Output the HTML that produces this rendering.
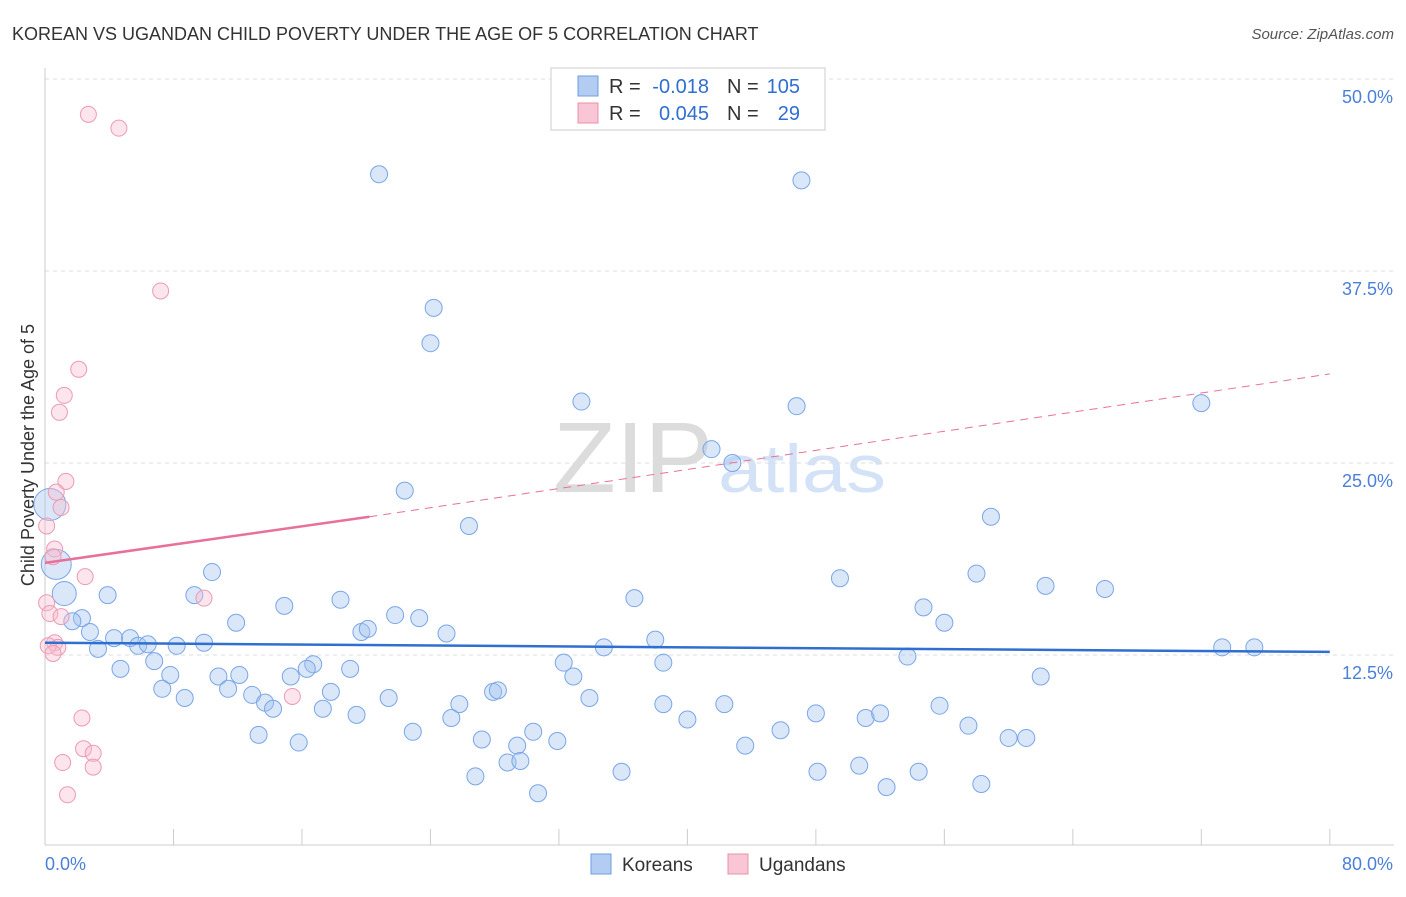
<!DOCTYPE html>
<html><head><meta charset="utf-8">
<style>
body{margin:0;background:#fff;font-family:"Liberation Sans",sans-serif;}
svg text{font-family:"Liberation Sans",sans-serif;}
</style></head>
<body>
<svg id="chart" width="1406" height="892">
<text x="12" y="40" font-size="18" fill="#333">KOREAN VS UGANDAN CHILD POVERTY UNDER THE AGE OF 5 CORRELATION CHART</text>
<text x="1394" y="39" font-size="15" fill="#555" font-style="italic" text-anchor="end">Source: ZipAtlas.com</text>
<text x="34" y="455" font-size="18" fill="#333" text-anchor="middle" transform="rotate(-90 34 455)">Child Poverty Under the Age of 5</text>
<text x="553" y="492" font-size="100" fill="#dcdcdc" font-family="Liberation Serif" textLength="160" lengthAdjust="spacingAndGlyphs">ZIP</text>
<text x="718" y="492" font-size="68" fill="#d3e2f6" textLength="168" lengthAdjust="spacingAndGlyphs">atlas</text>
<g id="grid"></g><g id="axes"></g><g id="marks"></g>
<g>
<rect x="551" y="68" width="274" height="62" fill="#fff" stroke="#ccc"/>
<rect x="578" y="76" width="20" height="20" fill="#b3cdf2" stroke="#6d9ee0"/>
<text x="609" y="93" font-size="20" fill="#333">R =</text>
<text x="709" y="93" font-size="20" fill="#2f6fd0" text-anchor="end">-0.018</text>
<text x="727" y="93" font-size="20" fill="#333">N =</text>
<text x="800" y="93" font-size="20" fill="#2f6fd0" text-anchor="end">105</text>
<rect x="578" y="103" width="20" height="20" fill="#f8c6d5" stroke="#e890ab"/>
<text x="609" y="120" font-size="20" fill="#333">R =</text>
<text x="709" y="120" font-size="20" fill="#2f6fd0" text-anchor="end">0.045</text>
<text x="727" y="120" font-size="20" fill="#333">N =</text>
<text x="800" y="120" font-size="20" fill="#2f6fd0" text-anchor="end">29</text>
</g>
<g>
<rect x="591" y="854" width="20" height="20" fill="#b3cdf2" stroke="#6d9ee0"/>
<text x="622" y="871" font-size="19" fill="#333">Koreans</text>
<rect x="728" y="854" width="20" height="20" fill="#f8c6d5" stroke="#e890ab"/>
<text x="759" y="871" font-size="19" fill="#333">Ugandans</text>
</g>
</svg>
<script>
const yTicks=[12.5,25,37.5,50];
const xTickLabels=["0.0%","80.0%"];
const koreanX=[20.8,47.1,24.2,24.0,33.4,46.8,72.0,41.5,42.8,22.4,26.4,58.9,10.4,49.5,58.0,62.3,66.0,3.9,9.3,18.4,36.7,14.9,21.8,23.3,54.7,11.9,56.0,2.3,1.7,2.8,19.7,20.1,25.0,4.3,5.3,5.8,6.4,8.2,9.9,38.0,3.3,34.8,73.3,75.3,6.8,4.7,16.7,16.3,32.3,38.5,53.7,7.8,10.8,12.1,15.3,19.0,32.9,62.0,7.3,11.4,17.8,27.9,28.2,8.7,12.9,13.7,14.2,21.4,33.9,25.8,38.5,42.3,55.7,17.3,19.4,25.3,48.0,40.0,51.1,52.0,57.5,13.3,22.9,30.4,45.8,27.2,31.9,15.8,29.4,43.6,60.0,61.1,28.8,29.6,50.7,26.8,35.9,48.1,54.4,52.4,58.3,30.7,0.3,0.7,1.2];
const koreanY=[43.8,43.4,35.1,32.8,29.0,28.7,28.9,25.9,25.0,23.2,20.9,21.5,17.9,17.5,17.8,17.0,16.8,16.4,16.4,16.1,16.2,15.7,15.1,14.9,15.6,14.6,14.6,14.9,14.7,14.0,14.0,14.2,13.9,13.6,13.6,13.1,13.2,13.1,13.3,13.5,12.9,13.0,13.0,13.0,12.1,11.6,11.9,11.6,12.0,12.0,12.4,11.2,11.1,11.2,11.1,11.6,11.1,11.1,10.3,10.3,10.1,10.1,10.2,9.7,9.9,9.4,9.0,9.7,9.7,9.3,9.3,9.3,9.2,9.0,8.6,8.4,8.7,8.3,8.4,8.7,7.9,7.3,7.5,7.5,7.6,7.0,6.9,6.8,6.6,6.6,7.1,7.1,5.5,5.6,5.3,4.6,4.9,4.9,4.9,3.9,4.1,3.5,22.3,18.4,16.5];
const koreanR=[8.5,8.5,8.5,8.5,8.5,8.5,8.5,8.5,8.5,8.5,8.5,8.5,8.5,8.5,8.5,8.5,8.5,8.5,8.5,8.5,8.5,8.5,8.5,8.5,8.5,8.5,8.5,8.5,8.5,8.5,8.5,8.5,8.5,8.5,8.5,8.5,8.5,8.5,8.5,8.5,8.5,8.5,8.5,8.5,8.5,8.5,8.5,8.5,8.5,8.5,8.5,8.5,8.5,8.5,8.5,8.5,8.5,8.5,8.5,8.5,8.5,8.5,8.5,8.5,8.5,8.5,8.5,8.5,8.5,8.5,8.5,8.5,8.5,8.5,8.5,8.5,8.5,8.5,8.5,8.5,8.5,8.5,8.5,8.5,8.5,8.5,8.5,8.5,8.5,8.5,8.5,8.5,8.5,8.5,8.5,8.5,8.5,8.5,8.5,8.5,8.5,8.5,16,15,12];
const ugandanX=[2.7,4.6,7.2,2.1,1.2,0.9,1.3,0.7,1.0,0.1,0.6,0.5,2.5,9.9,0.1,0.3,1.0,0.6,0.8,0.2,0.5,15.4,2.3,2.4,3.0,1.1,3.0,1.4];
const ugandanY=[47.7,46.8,36.2,31.1,29.4,28.3,23.8,23.1,22.1,20.9,19.4,18.9,17.6,16.2,15.9,15.2,15.0,13.3,13.0,13.1,12.6,9.8,8.4,6.4,6.1,5.5,5.2,3.4];
const X=v=>45+v*16.06, Y=v=>847-v*15.36;
const NS="http://www.w3.org/2000/svg";
function mk(t,a,p){const e=document.createElementNS(NS,t);for(const k in a)e.setAttribute(k,a[k]);p.appendChild(e);return e;}
const grid=document.getElementById('grid'),axes=document.getElementById('axes'),marks=document.getElementById('marks');
yTicks.forEach(v=>{
 const l=mk('line',{x1:45,x2:1394,y1:Y(v),y2:Y(v),stroke:'#ddd','stroke-dasharray':'4 4'},grid);
 
 
 const t=mk('text',{x:1393,y:Y(v)+24,'font-size':18,fill:'#4a80d8','text-anchor':'end'},axes);
 t.textContent=v.toFixed(1)+'%';
 
 
});
mk('line',{x1:45,x2:45,y1:68,y2:845,stroke:'#ccc'},axes);
mk('line',{x1:45,x2:1394,y1:845,y2:845,stroke:'#ccc'},axes);
for(let i=0;i<=10;i++){const l=mk('line',{x1:X(i*8),x2:X(i*8),y1:829,y2:845,stroke:'#ccc'},axes);
 
 }
const xl0=mk('text',{x:45,y:870,'font-size':18,fill:'#4a80d8'},axes);xl0.textContent=xTickLabels[0];


const xl1=mk('text',{x:1393,y:870,'font-size':18,fill:'#4a80d8','text-anchor':'end'},axes);xl1.textContent=xTickLabels[1];


koreanX.forEach((v,i)=>{const c=mk('circle',{cx:X(v),cy:Y(koreanY[i]),r:koreanR[i],fill:'rgba(160,195,240,0.4)',stroke:'#7aa6e6','stroke-width':1},marks);
 
 });
ugandanX.forEach((v,i)=>{const c=mk('circle',{cx:X(v),cy:Y(ugandanY[i]),r:8,fill:'rgba(248,190,208,0.4)',stroke:'#ec9ab4','stroke-width':1},marks);
 
 });
const kl=mk('line',{x1:X(0),y1:Y(13.3),x2:X(80),y2:Y(12.7),stroke:'#2f6fd0','stroke-width':2.5},marks);


const ul=mk('line',{x1:X(0),y1:Y(18.5),x2:X(20.2),y2:Y(21.5),stroke:'#e8709a','stroke-width':2.5},marks);


const ud=mk('line',{x1:X(20.2),y1:Y(21.5),x2:X(80),y2:Y(30.8),stroke:'#e8709a','stroke-width':1,'stroke-dasharray':'8 6'},marks);


</script>
</body></html>
